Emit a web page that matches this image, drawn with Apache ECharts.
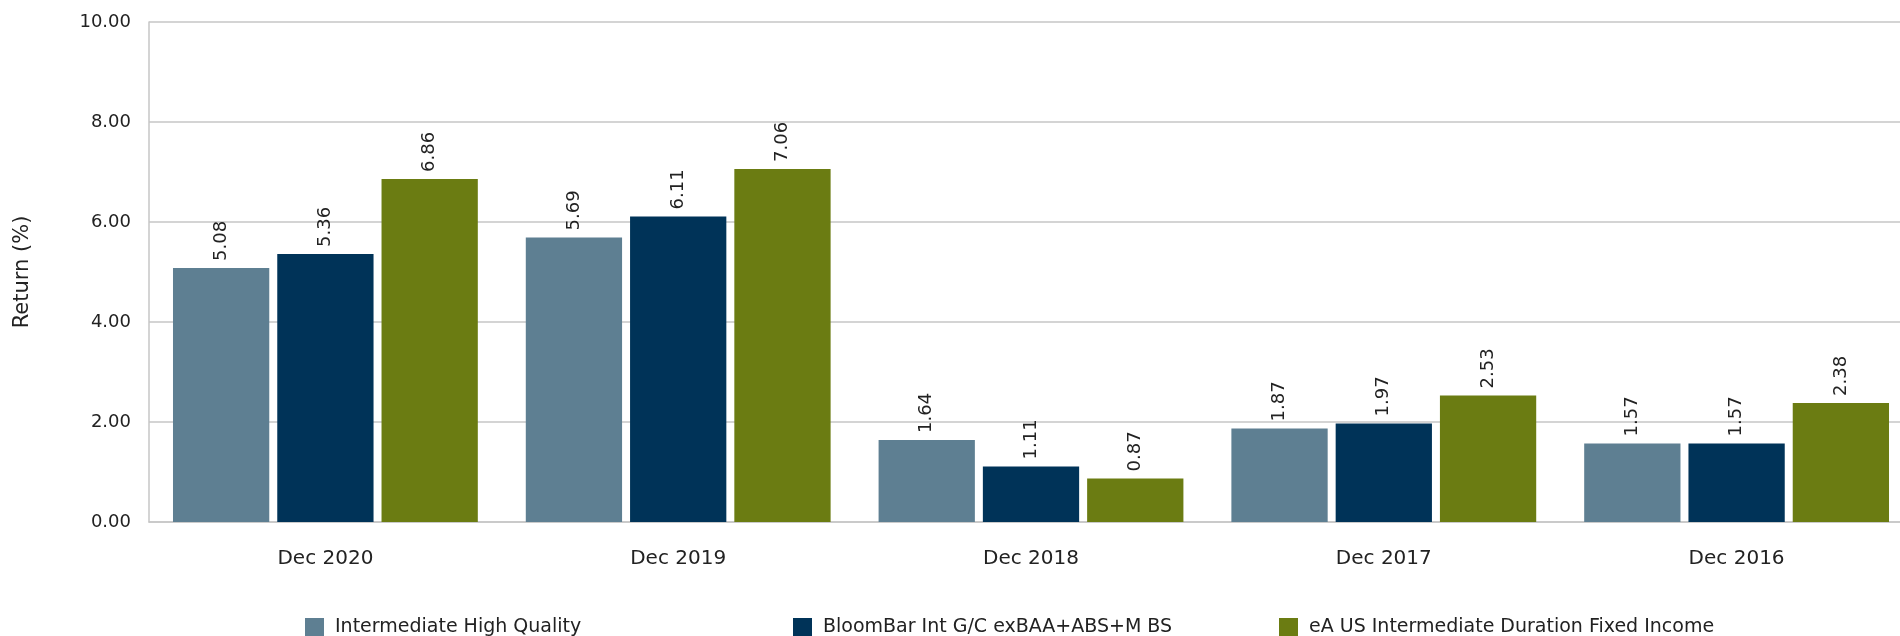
<!DOCTYPE html>
<html><head><meta charset="utf-8">
<script src="https://cdn.jsdelivr.net/npm/echarts@6/dist/echarts.min.js"></script>
<style>html,body{margin:0;padding:0;background:#fff}#c{width:1900px;height:636px}</style>
</head><body><div id="c"></div>
<script>
const categories = ['Dec 2020','Dec 2019','Dec 2018','Dec 2017','Dec 2016'];
const seriesNames = ['Intermediate High Quality','BloomBar Int G/C exBAA+ABS+M BS','eA US Intermediate Duration Fixed Income'];
const ihq = [5.08, 5.69, 1.64, 1.87, 1.57];
const bloom = [5.36, 6.11, 1.11, 1.97, 1.57];
const eaus = [6.86, 7.06, 0.87, 2.53, 2.38];
const yTicks = [0, 2, 4, 6, 8, 10];
const colors = ['#5e7f92', '#003358', '#6b7c12'];
const FONT = 'DejaVu Sans';
const TXT = '#222';

const chart = echarts.init(document.getElementById('c'));
const mk = (name, data, color) => ({
  name, type: 'bar', data,
  itemStyle: {color},
  barGap: '8.3%', barCategoryGap: '13.6%',
  label: {show: true, position: 'top', rotate: 90, align: 'left', verticalAlign: 'middle', distance: 7,
          color: TXT, fontFamily: FONT, fontSize: 18, formatter: p => p.value.toFixed(2)}
});
const legendAt = (name, left) => ({
  data: [name], left, top: 618, padding: 0, itemWidth: 19, itemHeight: 19, itemGap: 12, icon: 'rect',
  textStyle: {color: TXT, fontFamily: FONT, fontSize: 19, padding: [0, 0, 0, 6]}
});
chart.setOption({
  animation: false,
  textStyle: {fontFamily: FONT},
  legend: [legendAt(seriesNames[0], 305), legendAt(seriesNames[1], 793), legendAt(seriesNames[2], 1279)],
  grid: {left: 149, top: 22, width: 1764, height: 500, containLabel: false, outerBoundsMode: 'none'},
  xAxis: {
    type: 'category', data: categories,
    axisLine: {show: true, lineStyle: {color: '#c6c6c6', width: 1.5}},
    axisTick: {show: false},
    axisLabel: {color: TXT, fontFamily: FONT, fontSize: 20, margin: 27}
  },
  yAxis: {
    type: 'value', min: yTicks[0], max: yTicks[yTicks.length-1], interval: 2,
    name: 'Return (%)', nameLocation: 'middle', nameGap: 116, nameRotate: 90,
    nameTextStyle: {color: TXT, fontFamily: FONT, fontSize: 21},
    axisLine: {show: true, lineStyle: {color: '#c6c6c6', width: 1.5}},
    axisTick: {show: false},
    splitLine: {show: true, lineStyle: {color: '#c6c6c6', width: 1.5}},
    axisLabel: {color: TXT, fontFamily: FONT, fontSize: 18, margin: 18, formatter: v => v.toFixed(2)}
  },
  series: [mk(seriesNames[0], ihq, colors[0]), mk(seriesNames[1], bloom, colors[1]), mk(seriesNames[2], eaus, colors[2])]
});
</script></body></html>
